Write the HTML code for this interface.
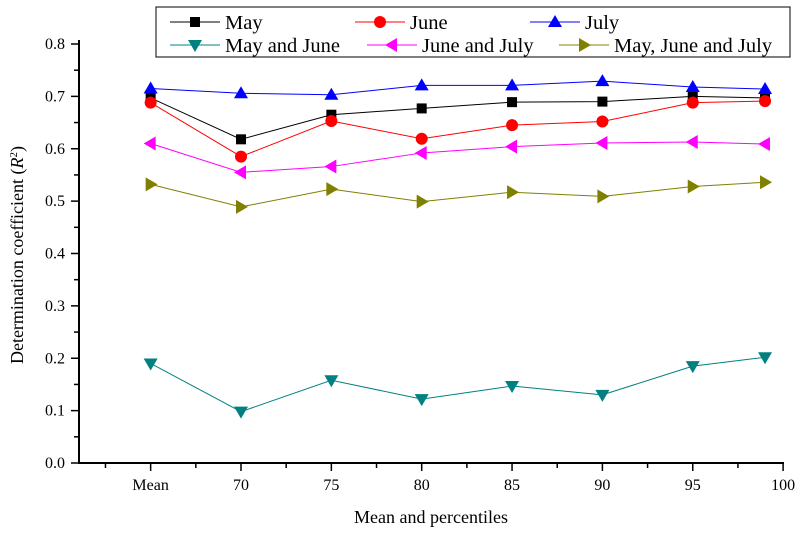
<!DOCTYPE html>
<html><head><meta charset="utf-8"><style>
body{margin:0;background:#fff}
svg text{font-family:"Liberation Serif",serif;fill:#000}
</style></head><body>
<svg id="c" width="800" height="534"></svg>
<script>
const cats=["Mean","70","75","80","85","90","95","99"];
const xVals=[65,70,75,80,85,90,95,99];
const xTickVals=[65,70,75,80,85,90,95,100];
const xTickLabels=["Mean","70","75","80","85","90","95","100"];
const yTicks=[0,0.1,0.2,0.3,0.4,0.5,0.6,0.7,0.8];
const may=[.697,.618,.665,.677,.689,.690,.700,.697];
const june=[.688,.585,.653,.619,.645,.652,.688,.691];
const july=[.715,.706,.703,.721,.721,.729,.718,.714];
const mayJune=[.190,.098,.158,.122,.147,.130,.185,.202];
const juneJuly=[.610,.555,.566,.592,.604,.611,.613,.609];
const mayJuneJuly=[.532,.489,.523,.499,.517,.509,.528,.536];
const NS="http://www.w3.org/2000/svg",svg=document.getElementById('c');
const X=v=>241+(v-70)*18.07, Y=v=>463-v*523.75;
function mk(t,a,p){const e=document.createElementNS(NS,t);for(const k in a)e.setAttribute(k,a[k]);(p||svg).appendChild(e);return e;}
let ax=mk('line',{x1:79,y1:463,x2:784,y2:463,stroke:'#000','stroke-width':2});

let ay=mk('line',{x1:79,y1:40,x2:79,y2:464,stroke:'#000','stroke-width':2});

for(let v=62.5;v<=100.01;v+=2.5){const maj=Math.abs(v%5)<.01;mk('line',{x1:X(v),y1:463,x2:X(v),y2:463+(maj?8:5),stroke:'#000','stroke-width':1.5});}
xTickVals.forEach((v,i)=>{const t=mk('text',{x:X(v),y:490,'text-anchor':'middle','font-size':16});t.textContent=xTickLabels[i];
});
for(let v=0;v<=0.801;v+=0.05){const maj=Math.round(v*100)%10==0;mk('line',{x1:79-(maj?8:5),y1:Y(v),x2:79,y2:Y(v),stroke:'#000','stroke-width':1.5});}
yTicks.forEach(v=>{const t=mk('text',{x:65,y:Y(v)+5,'text-anchor':'end','font-size':16});t.textContent=v.toFixed(1);
});
let xt=mk('text',{x:431,y:523,'text-anchor':'middle','font-size':18});xt.textContent='Mean and percentiles';

let yt=mk('text',{x:0,y:0,'text-anchor':'middle','font-size':18,transform:'translate(23,255) rotate(-90)'});
yt.innerHTML='Determination coefficient (<tspan font-style="italic">R</tspan><tspan dy="-6" font-size="11">2</tspan><tspan dy="6">)</tspan>';

function marker(g,type,x,y,c){let pts;
 if(type=='sq')return mk('rect',{x:x-5,y:y-5,width:10,height:10,fill:c},g);
 if(type=='ci')return mk('circle',{cx:x,cy:y,r:6,fill:c},g);
 if(type=='up')pts=[[x,y-7],[x-7,y+5],[x+7,y+5]];
 if(type=='dn')pts=[[x,y+7],[x-7,y-5],[x+7,y-5]];
 if(type=='lf')pts=[[x-7,y],[x+5,y-7],[x+5,y+7]];
 if(type=='rt')pts=[[x+7,y],[x-5,y-7],[x-5,y+7]];
 return mk('polygon',{points:pts.map(p=>p.join(',')).join(' '),fill:c},g);}
const series=[
 {n:'May',d:may,c:'#000',m:'sq',lx:195,ly:22},
 {n:'June',d:june,c:'#f00',m:'ci',lx:380,ly:22},
 {n:'July',d:july,c:'#00f',m:'up',lx:555,ly:22},
 {n:'May and June',d:mayJune,c:'#008080',m:'dn',lx:195,ly:45},
 {n:'June and July',d:juneJuly,c:'#f0f',m:'lf',lx:392,ly:45},
 {n:'May, June and July',d:mayJuneJuly,c:'#808000',m:'rt',lx:584,ly:45}];
series.forEach(s=>{const g=mk('g',{});
 mk('polyline',{points:s.d.map((v,i)=>X(xVals[i])+','+Y(v)).join(' '),fill:'none',stroke:s.c,'stroke-width':1},g);
 s.d.forEach((v,i)=>{const m=marker(g,s.m,X(xVals[i]),Y(v),s.c);});});
const lg=mk('g',{});
mk('rect',{x:156,y:7,width:634,height:50,fill:'#fff',stroke:'#000','stroke-width':1},lg);
series.forEach(s=>{const e=mk('g',{},lg);
 mk('line',{x1:s.lx-25,y1:s.ly,x2:s.lx+25,y2:s.ly,stroke:s.c,'stroke-width':1},e);
 marker(e,s.m,s.lx,s.ly,s.c);
 const t=mk('text',{x:s.lx+30,y:s.ly+7,'font-size':20.5},e);t.textContent=s.n;});
</script>
</body></html>
